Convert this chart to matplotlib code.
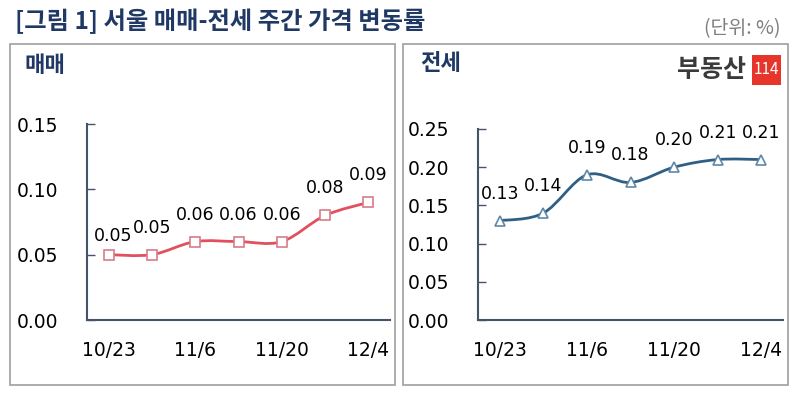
import matplotlib
matplotlib.use("Agg")
import matplotlib.pyplot as plt
from matplotlib.path import Path
from matplotlib.patches import PathPatch, Rectangle
import numpy as np

plt.rcParams['font.family'] = ['Noto Sans CJK KR', 'DejaVu Sans']

weeks = ["10/23", "10/30", "11/6", "11/13", "11/20", "11/27", "12/4"]
tick_weeks = ["10/23", "11/6", "11/20", "12/4"]
sale = [0.05, 0.05, 0.06, 0.06, 0.06, 0.08, 0.09]
jeonse = [0.13, 0.14, 0.19, 0.18, 0.20, 0.21, 0.21]
sale_ticks = [0.00, 0.05, 0.10, 0.15]
jeonse_ticks = [0.00, 0.05, 0.10, 0.15, 0.20, 0.25]

title = "[그림 1] 서울 매매-전세 주간 가격 변동률"
unit = "(단위: %)"

NAVY = "#1F3864"
AXC = "#44546A"
NUMFONT = ['DejaVu Sans']


def smooth_path(xs, ys):
    pts = np.column_stack([xs, ys]).astype(float)
    n = len(pts)
    verts = [pts[0]]
    codes = [Path.MOVETO]
    for i in range(n - 1):
        p0 = pts[i - 1] if i > 0 else pts[i]
        p1 = pts[i]
        p2 = pts[i + 1]
        p3 = pts[i + 2] if i + 2 < n else pts[i + 1]
        c1 = p1 + (p2 - p0) / 6.0
        c2 = p2 - (p3 - p1) / 6.0
        verts += [c1, c2, p2]
        codes += [Path.CURVE4] * 3
    return Path(verts, codes)


fig = plt.figure(figsize=(8, 3.95), dpi=100)

# panel frames
for x0 in [10, 403]:
    fig.patches.append(Rectangle((x0 / 800, 1 - 385 / 395), 385 / 800, 341 / 395,
                                 transform=fig.transFigure, fill=False,
                                 edgecolor="#A6A6A6", linewidth=1.3))

fig.text(15 / 800, 1 - 21 / 395, title, fontsize=17.5, fontweight='bold', color=NAVY,
         ha='left', va='center')
fig.text(781 / 800, 1 - 29 / 395, unit, fontsize=14, color="#7F7F7F",
         ha='right', va='center')
fig.text(24 / 800, 1 - 65 / 395, "매매", fontsize=16, fontweight='bold', color=NAVY,
         ha='left', va='center')
fig.text(420 / 800, 1 - 63 / 395, "전세", fontsize=16, fontweight='bold', color=NAVY,
         ha='left', va='center')
# logo
fig.text(746 / 800, 1 - 70 / 395, "부동산", fontsize=18, fontweight='heavy', color="#3A3A3A",
         ha='right', va='center')
fig.patches.append(Rectangle((752 / 800, 1 - 85 / 395), 29 / 800, 30 / 395,
                             transform=fig.transFigure, facecolor="#E8352B",
                             edgecolor='none'))
fig.text(766.5 / 800, 1 - 70 / 395, "114", fontsize=11, color="white",
         ha='center', va='center')


def panel(rect, vals, yticks, color, mcolor, marker, first_off):
    ax = fig.add_axes(rect)
    x = np.arange(len(vals))
    patch = PathPatch(smooth_path(x, vals), facecolor='none', edgecolor=color,
                      linewidth=2.0, zorder=2)
    ax.add_patch(patch)
    ax.plot(x, vals, linestyle='none', marker=marker, markersize=6.5,
            markerfacecolor='white', markeredgecolor=mcolor, markeredgewidth=1.2, zorder=3)
    for i, v in enumerate(vals):
        dx, dy = 0, 27
        if i == 0 and first_off is not None:
            dx, dy = first_off
        ax.annotate(f"{v:.2f}", (i, v), xytext=(dx, dy), textcoords='offset pixels',
                    ha='center', va='center', fontsize=12.5, color='black',
                    family=NUMFONT)
    ax.set_xlim(-0.5, len(vals) - 0.5)
    ax.set_ylim(yticks[0], yticks[-1])
    ax.set_yticks(yticks)
    ax.set_yticklabels([f"{t:.2f}" for t in yticks], family=NUMFONT)
    ax.set_xticks([weeks.index(w) for w in tick_weeks])
    ax.set_xticklabels(tick_weeks, family=NUMFONT)
    for s in ['top', 'right']:
        ax.spines[s].set_visible(False)
    for s in ['left', 'bottom']:
        ax.spines[s].set_color(AXC)
        ax.spines[s].set_linewidth(1.5)
    ax.tick_params(axis='y', direction='in', length=6, width=1.0, color=AXC,
                   labelsize=13.5, pad=21)
    ax.tick_params(axis='x', length=0, labelsize=13.5, pad=15)
    ax.patch.set_alpha(0)
    return ax


panel([87 / 800, 75 / 395, 303 / 800, 196 / 395], sale, sale_ticks,
      "#E0505F", "#D87A88", 's', (4, 19))
panel([478 / 800, 75 / 395, 305 / 800, 191 / 395], jeonse, jeonse_ticks,
      "#2F5F85", "#5F87A8", '^', None)

fig.savefig("out.png", dpi=100)
